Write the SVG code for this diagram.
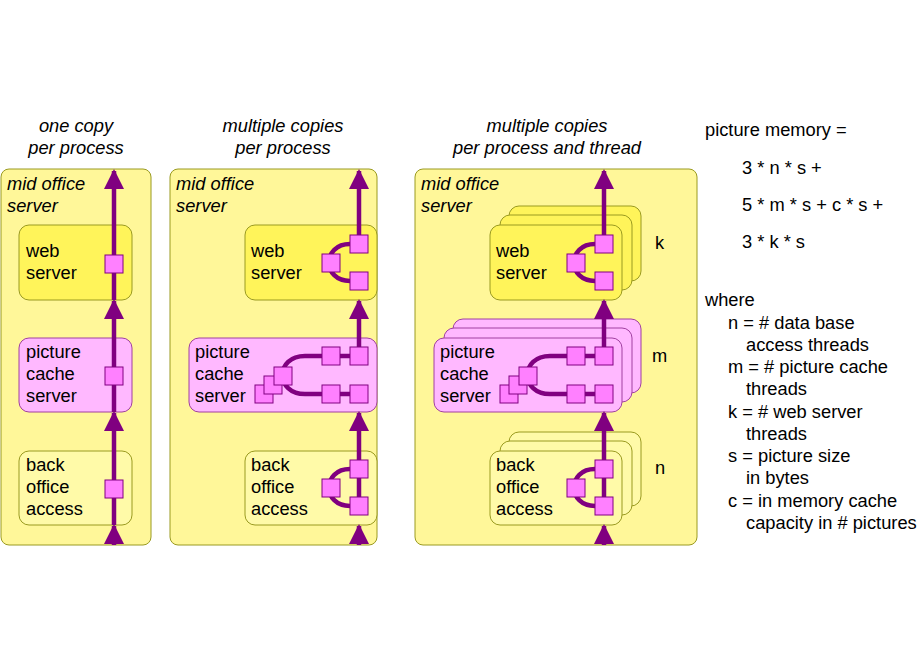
<svg xmlns="http://www.w3.org/2000/svg" width="920" height="660" viewBox="0 0 920 660">
<style>
text{font-family:"Liberation Sans",Arial,sans-serif;font-size:18.3px;fill:#000}
.it{font-style:italic}
.panel{fill:#fff799;stroke:#9a9a20;stroke-width:1}
.web{fill:#fff45a;stroke:#9a9a20}
.pc{fill:#ffb8ff;stroke:#a040a0}
.bo{fill:#fffaa8;stroke:#9a9a20}
.sq{fill:#ff80ff;stroke:#800080;stroke-width:1}
.ln{fill:none;stroke:#800080;stroke-width:4.5}
</style>
<defs>
<marker id="ah" viewBox="0 0 10 10" refX="9" refY="5" markerWidth="4.5" markerHeight="5" orient="auto" markerUnits="strokeWidth"><path d="M0,0 L10,5 L0,10 z" fill="#800080"/></marker>
</defs>
<rect width="920" height="660" fill="#fff"/>
<g id="titles">
<text class="it" x="76" y="132" text-anchor="middle">one copy</text>
<text class="it" x="76" y="154" text-anchor="middle">per process</text>
<text class="it" x="283" y="132" text-anchor="middle">multiple copies</text>
<text class="it" x="283" y="154" text-anchor="middle">per process</text>
<text class="it" x="547" y="132" text-anchor="middle">multiple copies</text>
<text class="it" x="547" y="154" text-anchor="middle">per process and thread</text>
</g>
<g id="panel1">
<rect class="panel" x="1" y="169" width="150" height="376" rx="8"/>
<text class="it" x="7" y="190">mid office</text><text class="it" x="7" y="212">server</text>
</g>
<g id="panel2">
<rect class="panel" x="170" y="169" width="207" height="376" rx="8"/>
<text class="it" x="176" y="190">mid office</text><text class="it" x="176" y="212">server</text>
</g>
<g id="panel3">
<rect class="panel" x="415" y="169" width="282" height="376" rx="8"/>
<text class="it" x="421" y="190">mid office</text><text class="it" x="421" y="212">server</text>
</g>
<g id="p1-web"><rect class="web" x="19" y="225" width="113" height="75" rx="10"/><text x="26" y="257">web</text><text x="26" y="279">server</text></g>
<g id="p1-cache"><rect class="pc" x="19" y="338" width="113" height="74" rx="10"/><text x="26" y="358">picture</text><text x="26" y="380">cache</text><text x="26" y="402">server</text></g>
<g id="p1-back"><rect class="bo" x="19" y="451" width="113" height="74" rx="10"/><text x="26" y="471">back</text><text x="26" y="493">office</text><text x="26" y="515">access</text></g>
<g id="p2-web"><rect class="web" x="245" y="225" width="132" height="75" rx="10"/><text x="251" y="257">web</text><text x="251" y="279">server</text></g>
<g id="p2-cache"><rect class="pc" x="189" y="338" width="188" height="74" rx="10"/><text x="195" y="358">picture</text><text x="195" y="380">cache</text><text x="195" y="402">server</text></g>
<g id="p2-back"><rect class="bo" x="245" y="451" width="132" height="74" rx="10"/><text x="251" y="471">back</text><text x="251" y="493">office</text><text x="251" y="515">access</text></g>
<g id="p3-web">
<rect class="web" x="509" y="206" width="132" height="75" rx="10"/>
<rect class="web" x="500" y="215" width="132" height="75" rx="10"/>
<rect class="web" x="490" y="225" width="132" height="75" rx="10"/><text x="496" y="257">web</text><text x="496" y="279">server</text></g>
<g id="p3-cache">
<rect class="pc" x="453" y="319" width="188" height="74" rx="10"/>
<rect class="pc" x="444" y="328" width="188" height="74" rx="10"/>
<rect class="pc" x="434" y="338" width="188" height="74" rx="10"/><text x="440" y="358">picture</text><text x="440" y="380">cache</text><text x="440" y="402">server</text></g>
<g id="p3-back">
<rect class="bo" x="509" y="432" width="132" height="74" rx="10"/>
<rect class="bo" x="500" y="441" width="132" height="74" rx="10"/>
<rect class="bo" x="490" y="451" width="132" height="74" rx="10"/><text x="496" y="471">back</text><text x="496" y="493">office</text><text x="496" y="515">access</text></g>
<g id="connectors">
<line class="ln" x1="114" y1="545" x2="114" y2="526" marker-end="url(#ah)"/>
<line class="ln" x1="114" y1="451" x2="114" y2="413" marker-end="url(#ah)"/>
<line class="ln" x1="114" y1="338" x2="114" y2="301" marker-end="url(#ah)"/>
<line class="ln" x1="114" y1="525" x2="114" y2="451"/>
<line class="ln" x1="114" y1="412" x2="114" y2="338"/>
<line class="ln" x1="114" y1="300" x2="114" y2="225"/>
<line class="ln" x1="114" y1="225" x2="114" y2="171" marker-end="url(#ah)"/>
<g id="p2c">
<line class="ln" x1="359" y1="545" x2="359" y2="526" marker-end="url(#ah)"/>
<line class="ln" x1="359" y1="507" x2="359" y2="413" marker-end="url(#ah)"/>
<line class="ln" x1="359" y1="347" x2="359" y2="301" marker-end="url(#ah)"/>
<line class="ln" x1="359" y1="235" x2="359" y2="171" marker-end="url(#ah)"/>
<path class="ln" d="M350,244 C322,244 322,281 350,281"/>
<path class="ln" d="M350,469 C322,469 322,506 350,506"/>
<path class="ln" d="M350,356 L305,356 C275,356 275,394 305,394 L350,394"/>
</g>
<g id="p3c">
<line class="ln" x1="604" y1="545" x2="604" y2="526" marker-end="url(#ah)"/>
<line class="ln" x1="604" y1="507" x2="604" y2="413" marker-end="url(#ah)"/>
<line class="ln" x1="604" y1="347" x2="604" y2="301" marker-end="url(#ah)"/>
<line class="ln" x1="604" y1="235" x2="604" y2="171" marker-end="url(#ah)"/>
<path class="ln" d="M595,244 C567,244 567,281 595,281"/>
<path class="ln" d="M595,469 C567,469 567,506 595,506"/>
<path class="ln" d="M595,356 L550,356 C520,356 520,394 550,394 L595,394"/>
</g>
</g>
<g id="squares">
<rect class="sq" x="105" y="255" width="18" height="18"/>
<rect class="sq" x="105" y="367" width="18" height="18"/>
<rect class="sq" x="105" y="480" width="18" height="18"/>
<rect class="sq" x="350" y="235" width="18" height="18"/><rect class="sq" x="322" y="254" width="18" height="18"/><rect class="sq" x="350" y="272" width="18" height="18"/>
<rect class="sq" x="350" y="460" width="18" height="18"/><rect class="sq" x="322" y="479" width="18" height="18"/><rect class="sq" x="350" y="497" width="18" height="18"/>
<rect class="sq" x="322" y="347" width="18" height="18"/><rect class="sq" x="350" y="347" width="18" height="18"/>
<rect class="sq" x="322" y="385" width="18" height="18"/><rect class="sq" x="350" y="385" width="18" height="18"/>
<rect class="sq" x="255" y="385" width="18" height="18"/><rect class="sq" x="264" y="376" width="18" height="18"/><rect class="sq" x="274" y="367" width="18" height="18"/>
<rect class="sq" x="595" y="235" width="18" height="18"/><rect class="sq" x="567" y="254" width="18" height="18"/><rect class="sq" x="595" y="272" width="18" height="18"/>
<rect class="sq" x="595" y="460" width="18" height="18"/><rect class="sq" x="567" y="479" width="18" height="18"/><rect class="sq" x="595" y="497" width="18" height="18"/>
<rect class="sq" x="567" y="347" width="18" height="18"/><rect class="sq" x="595" y="347" width="18" height="18"/>
<rect class="sq" x="567" y="385" width="18" height="18"/><rect class="sq" x="595" y="385" width="18" height="18"/>
<rect class="sq" x="500" y="385" width="18" height="18"/><rect class="sq" x="509" y="376" width="18" height="18"/><rect class="sq" x="519" y="367" width="18" height="18"/>
</g>
<g id="counts"><text x="655" y="249">k</text><text x="652" y="362">m</text><text x="655" y="474">n</text></g>
<g id="legend">
<text x="705" y="136">picture memory =</text>
<text x="742" y="174">3 * n * s +</text>
<text x="742" y="211">5 * m * s + c * s +</text>
<text x="742" y="248">3 * k * s</text>
<text x="705" y="306">where</text>
<text x="728" y="329">n = # data base</text>
<text x="746" y="351">access threads</text>
<text x="728" y="373">m = # picture cache</text>
<text x="746" y="395">threads</text>
<text x="728" y="418">k = # web server</text>
<text x="746" y="440">threads</text>
<text x="728" y="462">s = picture size</text>
<text x="746" y="484">in bytes</text>
<text x="728" y="507">c = in memory cache</text>
<text x="746" y="529">capacity in # pictures</text>
</g>
</svg>
